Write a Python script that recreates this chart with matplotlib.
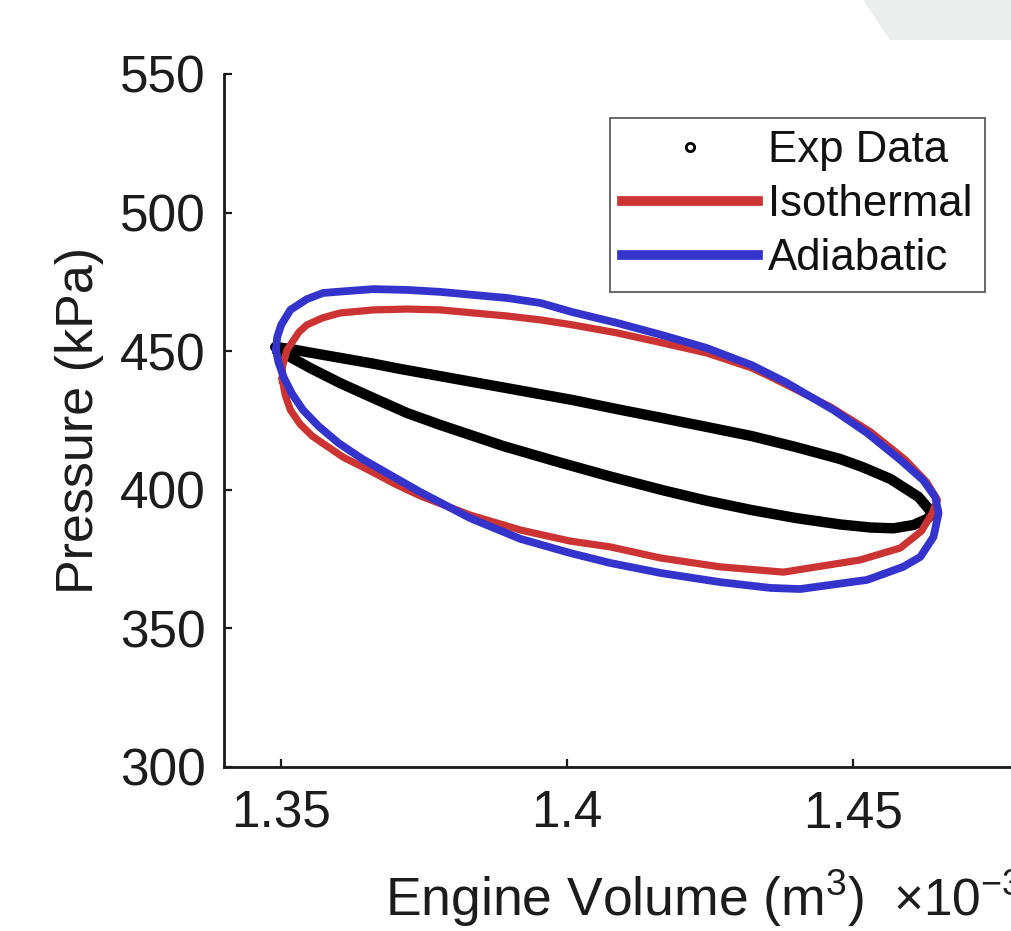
import matplotlib
matplotlib.use("Agg")
import matplotlib.pyplot as plt
from matplotlib.lines import Line2D
from matplotlib.patches import Polygon

plt.rcParams['font.family'] = ['Liberation Sans', 'DejaVu Sans']
plt.rcParams['mathtext.fontset'] = 'custom'
plt.rcParams['mathtext.rm'] = 'Liberation Sans'
plt.rcParams['mathtext.it'] = 'Liberation Sans:italic'

# ---- data (volume in 1e-3 m^3, pressure in kPa) ----
exp_v = [1.3490, 1.3516, 1.3545, 1.3603, 1.3661, 1.3708, 1.3778, 1.3848, 1.3918,
         1.4009, 1.4087, 1.4166, 1.4243, 1.4322, 1.4400, 1.4477, 1.4516, 1.4565,
         1.4614, 1.4638,
         1.4629, 1.4605, 1.4570, 1.4530, 1.4477, 1.4400, 1.4322, 1.4243, 1.4166,
         1.4075, 1.3988, 1.3888, 1.3836, 1.3778, 1.3720, 1.3661, 1.3603, 1.3551,
         1.3516, 1.3490]
exp_p = [451.5, 450.8, 449.7, 447.6, 445.5, 443.6, 441.0, 438.4, 435.8,
         432.4, 429.1, 425.9, 422.7, 419.4, 415.4, 411.1, 408.2, 403.9,
         397.4, 391.6,
         389.5, 387.3, 386.1, 386.4, 387.5, 389.8, 392.7, 396.1, 399.9,
         404.8, 409.8, 415.8, 419.4, 423.4, 427.7, 433.1, 438.5, 443.9,
         447.9, 451.5]

iso_v = [1.3502, 1.3502, 1.3510, 1.3531, 1.3545, 1.3572, 1.3603, 1.3661, 1.3720,
         1.3778, 1.3836, 1.3895, 1.3953, 1.4009, 1.4087, 1.4166, 1.4243, 1.4322,
         1.4358, 1.4460, 1.4530, 1.4591, 1.4628, 1.4647, 1.4638, 1.4619, 1.4582,
         1.4512, 1.4378, 1.4267, 1.4163, 1.4075, 1.4005, 1.3918, 1.3830, 1.3743,
         1.3699, 1.3656, 1.3608, 1.3554, 1.3533, 1.3516, 1.3507, 1.3502]
iso_p = [439.6, 444.3, 450.4, 456.9, 459.5, 462.0, 463.8, 464.9, 465.2,
         464.9, 463.8, 462.7, 461.3, 459.5, 456.6, 453.0, 449.4, 444.0,
         440.5, 429.9, 420.9, 410.8, 402.8, 396.3, 391.6, 385.1, 379.0,
         374.7, 370.3, 372.2, 375.4, 379.4, 381.5, 385.5, 390.9, 397.8,
         402.1, 406.8, 411.8, 419.4, 423.7, 428.8, 434.2, 439.6]

adi_v = [1.3491, 1.3493, 1.3500, 1.3516, 1.3545, 1.3573, 1.3603, 1.3661, 1.3720,
         1.3778, 1.3836, 1.3895, 1.3953, 1.4009, 1.4087, 1.4166, 1.4243, 1.4322,
         1.4381, 1.4465, 1.4524, 1.4582, 1.4622, 1.4643, 1.4649, 1.4640, 1.4617,
         1.4587, 1.4524, 1.4407, 1.4355, 1.4267, 1.4163, 1.4075, 1.4005, 1.3918,
         1.3830, 1.3743, 1.3703, 1.3642, 1.3600, 1.3565, 1.3538, 1.3519, 1.3505,
         1.3495, 1.3491]
adi_p = [450.4, 455.1, 459.5, 464.9, 468.8, 471.0, 471.5, 472.4, 472.1,
         471.4, 470.3, 469.2, 467.4, 464.1, 460.2, 455.8, 451.2, 445.0,
         438.9, 428.8, 420.5, 410.8, 403.5, 397.4, 391.6, 383.0, 375.8,
         372.2, 367.5, 364.2, 364.6, 366.7, 370.0, 373.6, 377.2, 382.3,
         389.8, 399.2, 403.9, 411.1, 416.9, 423.0, 428.8, 434.6, 440.3,
         446.1, 450.4]

x_ticks = [1.35, 1.40, 1.45]
x_tick_labels = ['1.35', '1.4', '1.45']
y_ticks = [300, 350, 400, 450, 500, 550]
y_tick_labels = ['300', '350', '400', '450', '500', '550']
series_names = ['Exp Data', 'Isothermal', 'Adiabatic']

RED = '#CC3434'
BLUE = '#3434CC'
TXT = '#1c1c1c'

W, H = 1011, 931
fig = plt.figure(figsize=(W / 100, H / 100), dpi=100)
fig.patch.set_facecolor('white')

# light grey slide shape at the top right
fig.patches.append(Polygon([(863 / W, 1.0), (890 / W, 1 - 40 / H), (1.0, 1 - 40 / H), (1.0, 1.0)],
                           closed=True, transform=fig.transFigure, facecolor='#ECEEED',
                           edgecolor='none', zorder=0))

ax = fig.add_axes([224 / W, 164 / H, 801 / W, 693 / H])
ax.set_facecolor('none')

ax.plot(exp_v, exp_p, color='black', lw=7.5, solid_joinstyle='round',
        solid_capstyle='round', zorder=2)
ax.plot(iso_v, iso_p, color=RED, lw=5.2, solid_joinstyle='round', zorder=3)
ax.plot(adi_v, adi_p, color=BLUE, lw=5.6, solid_joinstyle='round', zorder=4)

ax.set_xlim(1.34, 1.48)
ax.set_ylim(300, 550)
ax.set_xticks(x_ticks)
ax.set_xticklabels(x_tick_labels)
ax.set_yticks(y_ticks)
ax.set_yticklabels(y_tick_labels)

for s in ['top', 'right']:
    ax.spines[s].set_visible(False)
for s in ['left', 'bottom']:
    ax.spines[s].set_linewidth(2.0)
    ax.spines[s].set_color('#1a1a1a')

ax.tick_params(axis='both', direction='in', length=6, width=1.6, colors='#1a1a1a',
               labelsize=37, labelcolor=TXT)
ax.tick_params(axis='x', pad=16)
ax.tick_params(axis='y', pad=13)

ax.set_xlabel('Engine Volume (m$^3$)', fontsize=38.5, color=TXT, labelpad=21)
ax.set_ylabel('Pressure (kPa)', fontsize=37.5, color=TXT, labelpad=12)

fig.text(893 / W, 1 - 915 / H, r'$\times$10$^{-3}$', fontsize=37, color=TXT,
         ha='left', va='baseline')

handles = [
    Line2D([], [], ls='none', marker='o', ms=6, mfc='white', mec='black', mew=2.0),
    Line2D([], [], color=RED, lw=7),
    Line2D([], [], color=BLUE, lw=7),
]
leg = ax.legend(handles, series_names, loc='upper left',
                bbox_to_anchor=(610 / W, 1 - 118 / H), bbox_transform=fig.transFigure,
                borderaxespad=0, fontsize=31.5, handlelength=3.1, handletextpad=0.23,
                labelspacing=0.30, borderpad=0.28, frameon=True, fancybox=False)
leg.get_frame().set_edgecolor('#333333')
leg.get_frame().set_linewidth(1.3)
for t in leg.get_texts():
    t.set_color('#111111')

fig.savefig('out.png', dpi=100, facecolor='white')
